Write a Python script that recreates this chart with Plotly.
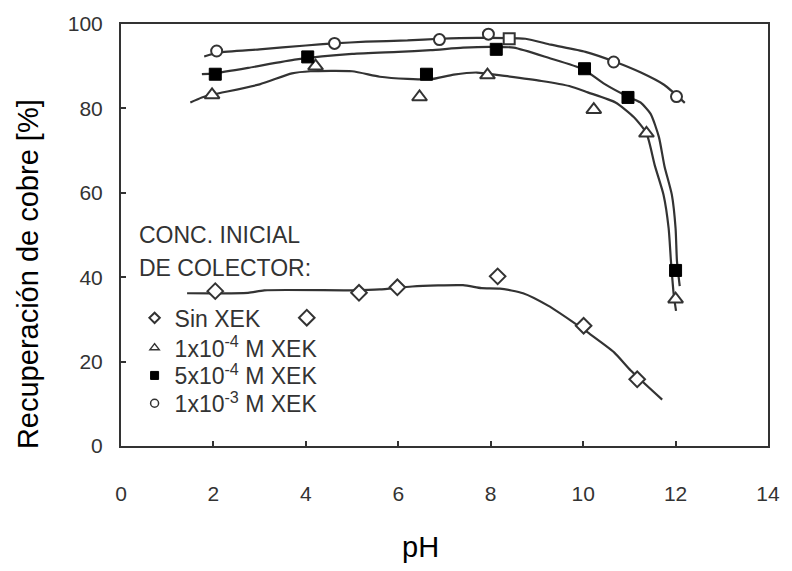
import plotly.graph_objects as go

# ---- measured data points (pH, % recovery) ----
ph_sin = [2.04, 4.02, 5.15, 5.98, 8.15, 10.01, 11.17]
rec_sin = [36.7, 30.4, 36.3, 37.6, 40.2, 28.5, 15.8]

ph_1e4 = [1.97, 4.21, 6.46, 7.93, 10.23, 11.37, 12.0]
rec_1e4 = [83.2, 90.0, 82.7, 87.9, 79.7, 74.1, 34.8]

ph_5e4 = [2.04, 4.04, 6.61, 8.12, 10.03, 10.97, 12.0]
rec_5e4 = [88.1, 92.2, 88.1, 94.0, 89.4, 82.6, 41.6]

ph_1e3 = [2.07, 4.62, 6.89, 7.95, 8.40, 10.66, 12.02]
rec_1e3 = [93.6, 95.4, 96.3, 97.6, 96.5, 91.0, 82.8]
sym_1e3 = ["circle", "circle", "circle", "circle", "square", "circle", "circle"]

# ---- fitted trend curves ----
fit_sin_x = [1.43, 2.75, 3.1, 5.0, 5.6, 6.3, 7.4, 7.8, 8.2, 8.7, 9.25, 9.75, 10.1, 10.67, 11.03, 11.71]
fit_sin_y = [36.2, 36.3, 36.9, 36.9, 37.1, 37.8, 38.1, 37.4, 37.3, 36.2, 33.2, 29.6, 26.9, 22.2, 17.9, 11.0]

fit_1e4_x = [1.5, 1.75, 2.0, 3.0, 3.7, 4.1, 5.0, 5.6, 6.2, 6.7, 7.2, 7.7, 8.3, 9.1, 9.7, 10.1,
             10.7, 11.1, 11.37, 11.55, 11.74, 11.85, 11.9, 11.96, 12.01]
fit_1e4_y = [81.4, 82.6, 83.3, 85.7, 88.3, 88.8, 88.8, 87.5, 87.0, 86.9, 88.0, 88.5, 87.7, 86.5, 85.3, 83.8,
             81.4, 77.9, 74.1, 66.5, 59.5, 51.6, 43.8, 35.9, 32.0]

fit_5e4_x = [1.75, 2.0, 2.75, 3.8, 5.0, 6.0, 6.7, 7.4, 8.0, 8.5, 9.25, 10.0, 10.46, 11.0, 11.24,
             11.46, 11.64, 11.76, 11.92, 12.0, 12.03, 12.09]
fit_5e4_y = [88.1, 88.3, 89.6, 91.6, 92.9, 93.4, 93.8, 94.4, 94.6, 94.4, 92.0, 89.3, 85.8, 82.6, 81.4,
             78.7, 73.2, 66.3, 59.5, 51.6, 43.8, 37.9]

fit_1e3_x = [1.8, 2.1, 3.0, 4.0, 4.6, 5.3, 6.2, 6.9, 7.7, 8.75, 9.3, 10.05, 10.7, 11.25, 11.75, 12.2]
fit_1e3_y = [92.3, 93.2, 94.0, 94.9, 95.4, 95.8, 96.1, 96.5, 96.7, 96.5, 95.1, 93.4, 91.0, 88.5, 85.6, 81.3]

legend_title = ["CONC. INICIAL", "DE COLECTOR:"]
legend_labels = ["Sin XEK", "1x10<sup>-4</sup> M XEK", "5x10<sup>-4</sup> M XEK", "1x10<sup>-3</sup> M XEK"]
x_ticks = [0, 2, 4, 6, 8, 10, 12, 14]
y_ticks = [0, 20, 40, 60, 80, 100]

INK = "#333333"
FONT = "Liberation Sans, Arial, sans-serif"

fig = go.Figure()

# curves
for fx, fy in [(fit_sin_x, fit_sin_y), (fit_1e4_x, fit_1e4_y), (fit_5e4_x, fit_5e4_y), (fit_1e3_x, fit_1e3_y)]:
    fig.add_trace(go.Scatter(x=fx, y=fy, mode="lines", showlegend=False, hoverinfo="skip",
                             line=dict(color=INK, width=2.2, shape="spline", smoothing=0.6)))

# markers
fig.add_trace(go.Scatter(x=ph_sin, y=rec_sin, mode="markers", showlegend=False,
                         marker=dict(symbol="diamond", size=12, color="white", line=dict(color=INK, width=2))))
fig.add_trace(go.Scatter(x=ph_1e4, y=rec_1e4, mode="markers", showlegend=False,
                         marker=dict(symbol="triangle-up", size=13, color="white", line=dict(color=INK, width=2))))
fig.add_trace(go.Scatter(x=ph_5e4, y=rec_5e4, mode="markers", showlegend=False,
                         marker=dict(symbol="square", size=12, color="black", line=dict(color="black", width=1))))
fig.add_trace(go.Scatter(x=ph_1e3, y=rec_1e3, mode="markers", showlegend=False,
                         marker=dict(symbol=sym_1e3, size=11, color="white", line=dict(color=INK, width=2))))

# legend-only entries, each in its own legend box so the row spacing can match the reference
leg_styles = [
    dict(symbol="diamond", size=8, color="white", line=dict(color=INK, width=2)),
    dict(symbol="triangle-up", size=8, color="white", line=dict(color=INK, width=1.5)),
    dict(symbol="square", size=8, color="black", line=dict(color="black", width=1)),
    dict(symbol="circle", size=8, color="white", line=dict(color=INK, width=1.5)),
]
leg_ids = ["legend", "legend2", "legend3", "legend4"]
leg_y = [0.3035, 0.2329, 0.1671, 0.1012]
for lab, st, lid in zip(legend_labels, leg_styles, leg_ids):
    fig.add_trace(go.Scatter(x=[None], y=[None], mode="markers", name=lab, marker=st,
                             showlegend=True, legend=lid))

axis_common = dict(showline=True, linecolor=INK, linewidth=2, mirror=True, showgrid=False, zeroline=False,
                   ticks="inside", ticklen=5, tickwidth=1.5, tickcolor=INK,
                   tickfont=dict(family=FONT, size=21, color=INK))

legend_layout = {}
for lid, ly in zip(leg_ids, leg_y):
    legend_layout[lid] = dict(x=0.021, y=ly, xanchor="left", yanchor="middle", bgcolor="rgba(0,0,0,0)",
                              font=dict(family=FONT, size=23, color=INK), itemwidth=30)

fig.update_layout(
    width=792, height=571,
    margin=dict(l=121, r=17, t=21, b=125),
    paper_bgcolor="white", plot_bgcolor="white",
    xaxis=dict(range=[0, 14], tickvals=x_ticks, ticklabelstandoff=28, **axis_common),
    yaxis=dict(range=[0, 100], tickvals=y_ticks, ticklabelstandoff=12, **axis_common),
    annotations=[
        dict(text=legend_title[0], xref="paper", yref="paper", x=0.0245, y=0.501, showarrow=False,
             font=dict(family=FONT, size=23, color=INK), xanchor="left", yanchor="middle"),
        dict(text=legend_title[1], xref="paper", yref="paper", x=0.0245, y=0.421, showarrow=False,
             font=dict(family=FONT, size=23, color=INK), xanchor="left", yanchor="middle"),
        dict(text="pH", xref="paper", yref="paper", x=0.463, y=-0.24, showarrow=False,
             font=dict(family=FONT, size=29, color="black"), xanchor="center", yanchor="middle"),
        dict(text="Recuperación de cobre [%]", xref="paper", yref="paper", x=-0.144, y=0.407,
             showarrow=False, textangle=-90, font=dict(family=FONT, size=29, color="black"),
             xanchor="center", yanchor="middle"),
    ],
    **legend_layout,
)

fig.write_html("out.html")
